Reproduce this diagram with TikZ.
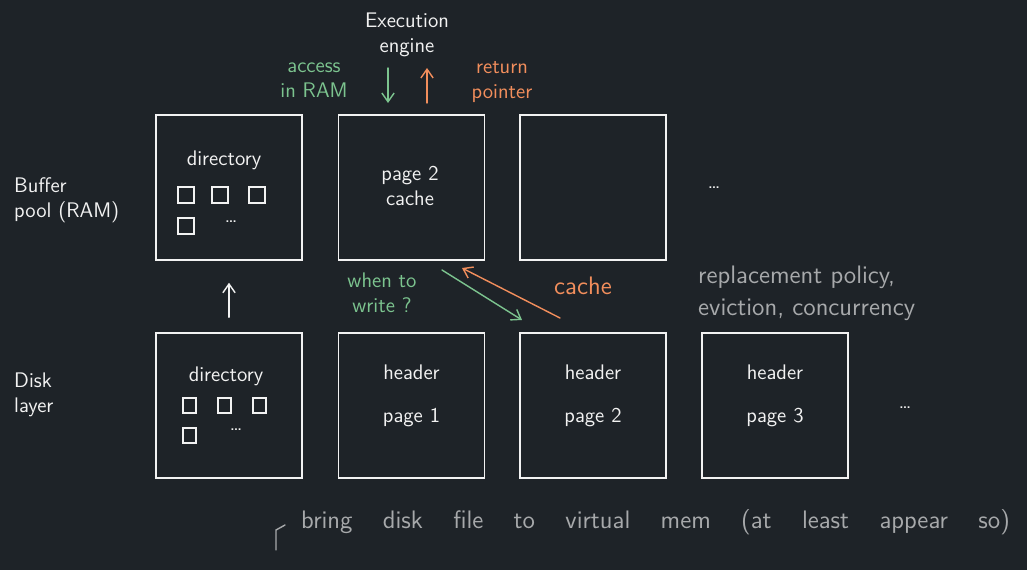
\documentclass[tikz,border=0pt]{standalone}
\usetikzlibrary{arrows.meta}
\definecolor{bg}{HTML}{1E2328}
\definecolor{ink}{HTML}{F2F2F2}
\definecolor{grn}{HTML}{7CC48F}
\definecolor{org}{HTML}{F28E5C}
\definecolor{gry}{HTML}{A7A9AB}
\tikzset{
  page/.style={draw=ink,line width=0.9pt,minimum width=2.92cm,minimum height=2.9cm},
  slot/.style={draw=ink,line width=0.8pt},
  lbl/.style={text=ink,align=center,font=\large\sffamily},
}
\begin{document}
\begin{tikzpicture}[x=0.02cm,y=-0.02cm,>={Straight Barb[length=5pt,width=7pt]},line cap=round]
	\useasboundingbox (0,0) rectangle (1027,570);
	\fill[bg] (0,0) rectangle (1027,570);
	% buffer pool row
	\node[page] (top1) at (229,187.5) {};
	\node[page] (top2) at (411.5,187.5) {};
	\node[page] (top3) at (593,187.5) {};
	\node[lbl] at (714,188) {\dots};
	\node[lbl,align=left,anchor=west] (pool) at (8,200) {Buffer\\pool (RAM)};
	\node[lbl] (dirtop) at (224,160) {directory};
	\foreach \x in {178,212,249} \draw[slot] (\x,187) rectangle ++(16,16);
	\draw[slot] (178,218) rectangle ++(16,16);
	\node[lbl] at (231,222) {\dots};
	\node[lbl] (cachetxt) at (410,186) {page 2\\cache};
	% disk row
	\node[page] (bot1) at (229,405.5) {};
	\node[page] (bot2) at (411.5,405.5) {};
	\node[page] (bot3) at (593,405.5) {};
	\node[page] (bot4) at (775,405.5) {};
	\node[lbl] at (905,408) {\dots};
	\node[lbl,align=left,anchor=west] (disk) at (8,395) {Disk\\layer};
	\node[lbl] (dirbot) at (226,376) {directory};
	\foreach \x in {183,218,253} \draw[slot] (\x,398) rectangle ++(13,15);
	\draw[slot] (183,428) rectangle ++(13,15);
	\node[lbl] at (236,430) {\dots};
	\foreach \n/\p in {2/1,3/2,4/3}{
		\node[lbl] at ([yshift=-0.8cm]bot\n.north) {header};
		\node[lbl] at ([yshift=-1.7cm]bot\n.north) {page \p};
	}
	% execution engine
	\node[lbl] (exec) at (407,35) {Execution\\engine};
	\node[lbl,text=grn] (acc) at (314,80) {access\\in RAM};
	\node[lbl,text=org] (ret) at (502,82) {return\\pointer};
	\coordinate (a1) at (388,68);
	\coordinate (a2) at (388,103);
	\coordinate (r1) at (427,103);
	\coordinate (r2) at (427,68);
	\draw[->,grn,line width=0.8pt] (a1) -- (a2);
	\draw[->,org,line width=0.8pt] (r1) -- (r2);
	% disk to pool
	\draw[->,ink,line width=0.8pt,shorten <=0.3cm,shorten >=0.44cm] (bot1.north) -- (top1.south);
	\node[lbl,text=grn] (when) at (382,293) {when to\\write ?};
	\coordinate (w1) at (442,270);
	\coordinate (w2) at (522,320);
	\coordinate (c1) at (560,318);
	\coordinate (c2) at (462,268);
	\draw[->,grn,line width=0.8pt] (w1) -- (w2);
	\draw[->,org,line width=0.8pt] (c1) -- (c2);
	\node[lbl,text=org,font=\Large\sffamily] (cache) at (583,286) {cache};
	\node[lbl,text=gry,align=left,anchor=west,font=\Large\sffamily] (policy) at (692,293) {replacement policy,\\eviction, concurrency};
	% bottom note
	\draw[gry,line width=0.8pt] (276,550) -- (276,530) -- (285,525);
	\node[lbl,text=gry,anchor=west,font=\Large\sffamily] (mmap) at (295,522) {\spaceskip=1.2em\relax bring disk file to virtual mem (at least appear so)};
\end{tikzpicture}
\end{document}
